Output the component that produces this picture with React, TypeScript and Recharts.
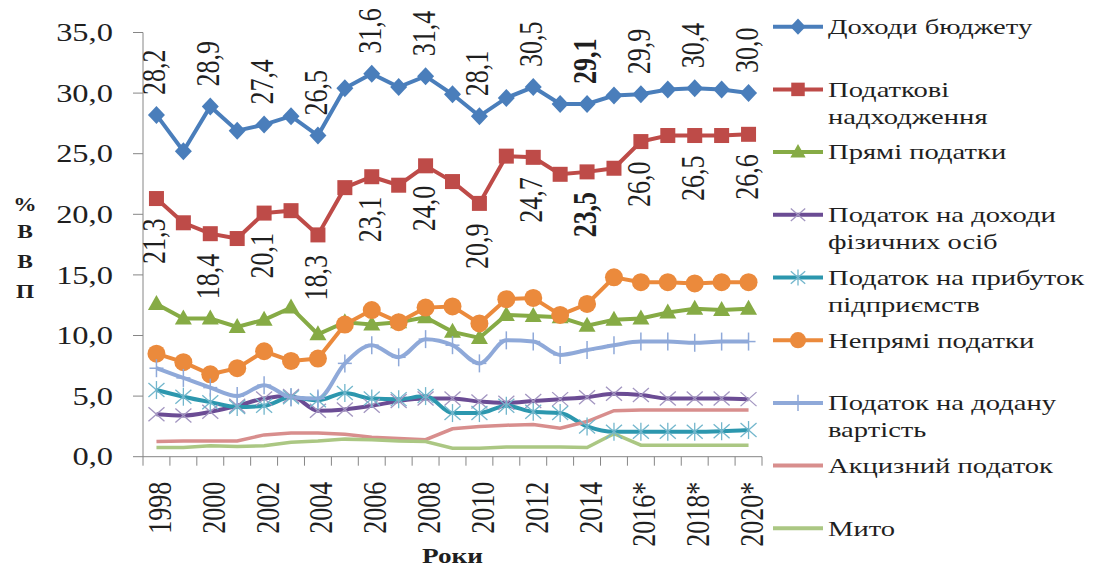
import { LineChart, Line, XAxis, YAxis, Legend, LabelList } from 'recharts'

const years = [
  '1998', '1999', '2000', '2001', '2002', '2003', '2004', '2005', '2006', '2007', '2008', '2009',
  '2010', '2011', '2012', '2013', '2014', '2015', '2016*', '2017*', '2018*', '2019*', '2020*',
]

const budgetRevenue = [28.2, 25.2, 28.9, 26.9, 27.4, 28.1, 26.5, 30.4, 31.6, 30.5, 31.4, 29.9, 28.1, 29.6, 30.5, 29.1, 29.1, 29.8, 29.9, 30.3, 30.4, 30.3, 30.0]
const taxRevenue = [21.3, 19.3, 18.4, 18.0, 20.1, 20.3, 18.3, 22.2, 23.1, 22.4, 24.0, 22.7, 20.9, 24.8, 24.7, 23.3, 23.5, 23.8, 26.0, 26.5, 26.5, 26.5, 26.6]
const directTaxes = [12.6, 11.4, 11.4, 10.7, 11.3, 12.3, 10.1, 11.1, 10.9, 11.1, 11.5, 10.3, 9.8, 11.7, 11.6, 11.5, 10.8, 11.3, 11.4, 11.9, 12.2, 12.1, 12.2]
const personalIncomeTax = [3.5, 3.4, 3.7, 4.2, 4.8, 5.0, 3.8, 3.9, 4.2, 4.6, 4.8, 4.8, 4.55, 4.45, 4.6, 4.75, 4.9, 5.2, 5.1, 4.8, 4.8, 4.8, 4.75]
const profitTax = [5.5, 4.95, 4.5, 4.1, 4.2, 4.9, 4.65, 5.25, 4.8, 4.75, 5.0, 3.6, 3.6, 4.2, 3.7, 3.6, 2.5, 2.05, 2.05, 2.05, 2.05, 2.1, 2.2]
const indirectTaxes = [8.5, 7.8, 6.8, 7.3, 8.7, 7.9, 8.1, 10.9, 12.1, 11.1, 12.3, 12.4, 11.0, 13.0, 13.1, 11.7, 12.6, 14.8, 14.4, 14.4, 14.3, 14.4, 14.4]
const vat = [7.3, 6.5, 5.7, 5.0, 5.9, 4.9, 4.8, 7.7, 9.2, 8.2, 9.7, 9.2, 7.7, 9.6, 9.5, 8.4, 8.8, 9.2, 9.5, 9.5, 9.4, 9.5, 9.5]
const exciseTax = [1.25, 1.3, 1.3, 1.3, 1.8, 1.95, 1.95, 1.85, 1.6, 1.5, 1.4, 2.3, 2.5, 2.6, 2.65, 2.35, 2.9, 3.8, 3.85, 3.85, 3.85, 3.85, 3.85]
const customsDuty = [0.75, 0.75, 0.9, 0.85, 0.9, 1.2, 1.3, 1.45, 1.4, 1.3, 1.25, 0.7, 0.7, 0.8, 0.8, 0.8, 0.75, 1.9, 0.95, 0.95, 0.95, 0.95, 0.95]

const yTicks = [0, 5, 10, 15, 20, 25, 30, 35]

const W = 1096
const H = 568
const PLOT_LEFT = 143
const PLOT_RIGHT = 762
const PLOT_TOP = 32.5
const PLOT_BOTTOM = 456.7
const BAND = (PLOT_RIGHT - PLOT_LEFT) / years.length
const SX = 1.3
const FONT = "'Liberation Serif', 'Times New Roman', serif"
const INK = '#1f1f1f'
const AXIS = '#868686'
const BOLD_INDEX = 16

const data = years.map((year, i) => ({
  year,
  budget: budgetRevenue[i],
  tax: taxRevenue[i],
  direct: directTaxes[i],
  pit: personalIncomeTax[i],
  profit: profitTax[i],
  indirect: indirectTaxes[i],
  vat: vat[i],
  excise: exciseTax[i],
  duty: customsDuty[i],
}))

type MarkerKind = 'diamond' | 'square' | 'triangle' | 'cross' | 'star' | 'circle' | 'plus' | 'none'

const series: {
  key: string
  name: string
  color: string
  markColor: string
  marker: MarkerKind
  curve: 'linear' | 'monotone'
}[] = [
  { key: 'budget', name: 'Доходи бюджету', color: '#4A7EBB', markColor: '#4A7EBB', marker: 'diamond', curve: 'linear' },
  { key: 'tax', name: 'Податкові\nнадходження', color: '#BE4B48', markColor: '#BE4B48', marker: 'square', curve: 'linear' },
  { key: 'direct', name: 'Прямі податки', color: '#86AB45', markColor: '#86AB45', marker: 'triangle', curve: 'linear' },
  { key: 'pit', name: 'Податок на доходи\nфізичних осіб', color: '#6B4C94', markColor: '#A295C0', marker: 'cross', curve: 'monotone' },
  { key: 'profit', name: 'Податок на прибуток\nпідприємств', color: '#2C97AE', markColor: '#72B6CC', marker: 'star', curve: 'monotone' },
  { key: 'indirect', name: 'Непрямі податки', color: '#EB8A3C', markColor: '#EB8A3C', marker: 'circle', curve: 'linear' },
  { key: 'vat', name: 'Податок на додану\nвартість', color: '#8FA9D9', markColor: '#8FA9D9', marker: 'plus', curve: 'monotone' },
  { key: 'excise', name: 'Акцизний податок', color: '#D88E8D', markColor: '#D88E8D', marker: 'none', curve: 'linear' },
  { key: 'duty', name: 'Мито', color: '#ABC783', markColor: '#ABC783', marker: 'none', curve: 'linear' },
]

const fmt = (v: number) => v.toFixed(1).replace('.', ',')

function SText({ x, y, size, anchor = 'start', rotate = false, bold = false, children }: any) {
  return (
    <g transform={`translate(${x},${y}) scale(${SX},1)`}>
      <text
        transform={rotate ? 'rotate(-90)' : undefined}
        textAnchor={anchor}
        dominantBaseline={rotate ? 'auto' : 'central'}
        fontFamily={FONT}
        fontSize={size}
        fontWeight={bold ? 'bold' : 'normal'}
        fill={INK}
      >
        {children}
      </text>
    </g>
  )
}

function Marker({ kind, cx, cy, color, scale = 1 }: { kind: MarkerKind; cx: number; cy: number; color: string; scale?: number }) {
  const s = scale
  if (cx == null || cy == null) return null
  switch (kind) {
    case 'diamond':
      return <polygon points={`${cx},${cy - 9 * s} ${cx + 8.5 * s},${cy} ${cx},${cy + 9 * s} ${cx - 8.5 * s},${cy}`} fill={color} />
    case 'square':
      return <rect x={cx - 7.5 * s} y={cy - 7.5 * s} width={15 * s} height={15 * s} fill={color} />
    case 'triangle':
      return <polygon points={`${cx},${cy - 9 * s} ${cx + 8.5 * s},${cy + 6 * s} ${cx - 8.5 * s},${cy + 6 * s}`} fill={color} />
    case 'circle':
      return <circle cx={cx} cy={cy} r={9 * s} fill={color} />
    case 'cross':
      return (
        <g stroke={color} strokeWidth={1.3}>
          <line x1={cx - 8 * s} y1={cy - 7 * s} x2={cx + 8 * s} y2={cy + 7 * s} />
          <line x1={cx - 8 * s} y1={cy + 7 * s} x2={cx + 8 * s} y2={cy - 7 * s} />
        </g>
      )
    case 'star':
      return (
        <g stroke={color} strokeWidth={1.3}>
          <line x1={cx - 8 * s} y1={cy - 7 * s} x2={cx + 8 * s} y2={cy + 7 * s} />
          <line x1={cx - 8 * s} y1={cy + 7 * s} x2={cx + 8 * s} y2={cy - 7 * s} />
          <line x1={cx} y1={cy - 9 * s} x2={cx} y2={cy + 9 * s} />
        </g>
      )
    case 'plus':
      return (
        <g stroke={color} strokeWidth={1.5}>
          <line x1={cx} y1={cy - 9 * s} x2={cx} y2={cy + 9 * s} />
          <line x1={cx - 7 * s} y1={cy} x2={cx + 7 * s} y2={cy} />
        </g>
      )
    default:
      return null
  }
}

function YTick({ x, y, payload }: any) {
  return (
    <SText x={x} y={y} size={25} anchor="end">
      {fmt(payload.value)}
    </SText>
  )
}

function XTick({ x, y, index, payload }: any) {
  const last = index === years.length - 1
  return (
    <g>
      <line x1={x - BAND / 2} y1={y} x2={x - BAND / 2} y2={y + 9} stroke={AXIS} />
      {last && <line x1={x + BAND / 2} y1={y} x2={x + BAND / 2} y2={y + 9} stroke={AXIS} />}
      {index % 2 === 0 && (
        <SText x={x + 14.5} y={y + 25} size={26} anchor="end" rotate>
          {payload.value}
        </SText>
      )}
    </g>
  )
}

function YTitle({ viewBox }: any) {
  const mid = (PLOT_TOP + PLOT_BOTTOM) / 2
  const letters = ['%', 'В', 'В', 'П']
  const offs = [-40, -13, 17, 47]
  return (
    <g>
      {letters.map((l, i) => (
        <SText key={i} x={25} y={mid + offs[i]} size={18} anchor="middle" bold>
          {l}
        </SText>
      ))}
    </g>
  )
}

function XTitle({ viewBox }: any) {
  const cx = viewBox ? viewBox.x + viewBox.width / 2 : (PLOT_LEFT + PLOT_RIGHT) / 2
  return (
    <SText x={cx} y={PLOT_BOTTOM + 99} size={21} anchor="middle" bold>
      Роки
    </SText>
  )
}

function valueLabel(above: boolean) {
  return (props: any) => {
    const { index, value } = props
    const x = props.x ?? props.viewBox?.x
    const y = props.y ?? props.viewBox?.y
    if (index % 2 !== 0 || x == null || y == null) return null
    return (
      <SText
        key={`lbl-${above ? 'a' : 'b'}-${index}`}
        x={x + 9}
        y={above ? y - 20 : y + 20}
        size={26}
        anchor={above ? 'start' : 'end'}
        rotate
        bold={index === BOLD_INDEX}
      >
        {fmt(Number(value))}
      </SText>
    )
  }
}

const LEGEND_LEFT = 770

function LegendBox() {
  return (
    <svg width={W - LEGEND_LEFT} height={H} style={{ display: 'block' }}>
      {series.map((s, i) => {
        const cy = 26.7 + 62.7 * i
        const lines = s.name.split('\n')
        return (
          <g key={s.key}>
            <line x1={773 - LEGEND_LEFT} y1={cy} x2={823 - LEGEND_LEFT} y2={cy} stroke={s.color} strokeWidth={4} />
            <Marker kind={s.marker} cx={798 - LEGEND_LEFT} cy={cy} color={s.markColor} scale={0.9} />
            {lines.map((t, j) => (
              <SText key={j} x={828 - LEGEND_LEFT} y={cy + j * 27} size={22}>
                {t}
              </SText>
            ))}
          </g>
        )
      })}
    </svg>
  )
}

export default function App() {
  return (
    <div style={{ position: 'absolute', left: 0, top: 0, width: W, height: H, background: '#fff' }}>
      <LineChart
        width={W}
        height={H}
        data={data}
        margin={{ top: PLOT_TOP, right: W - PLOT_RIGHT, bottom: 0, left: 0 }}
      >
        <XAxis
          dataKey="year"
          scale="band"
          interval={0}
          height={H - PLOT_BOTTOM}
          tickLine={false}
          tickSize={0}
          tickMargin={0}
          axisLine={{ stroke: AXIS }}
          tick={<XTick />}
          label={<XTitle />}
        />
        <YAxis
          width={PLOT_LEFT}
          domain={[0, 35]}
          ticks={yTicks}
          interval={0}
          tickSize={10}
          tickMargin={20}
          axisLine={{ stroke: AXIS }}
          tickLine={{ stroke: AXIS }}
          tick={<YTick />}
          label={<YTitle />}
        />
        <Legend
          layout="vertical"
          align="center"
          verticalAlign="middle"
          wrapperStyle={{ position: 'absolute', left: LEGEND_LEFT, top: 0, width: W - LEGEND_LEFT, height: H }}
          content={() => <LegendBox />}
        />
        {series.map((s) => (
          <Line
            key={s.key}
            dataKey={s.key}
            name={s.name}
            type={s.curve}
            stroke={s.color}
            strokeWidth={s.marker === 'none' ? 3.5 : 4}
            isAnimationActive={false}
            activeDot={false}
            dot={(p: any) => (
              <Marker key={`${s.key}-${p.index}`} kind={s.marker} cx={p.cx} cy={p.cy} color={s.markColor} />
            )}
          >
            {s.key === 'budget' && <LabelList dataKey="budget" content={valueLabel(true)} />}
            {s.key === 'tax' && <LabelList dataKey="tax" content={valueLabel(false)} />}
          </Line>
        ))}
      </LineChart>
    </div>
  )
}
